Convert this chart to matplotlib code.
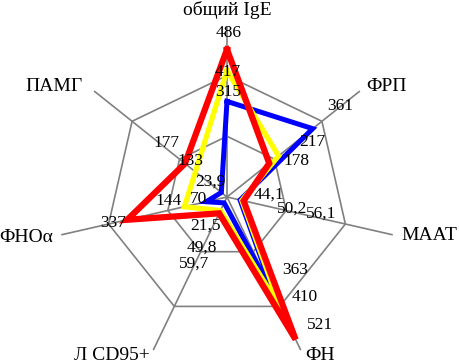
import matplotlib
matplotlib.use("Agg")
import matplotlib.pyplot as plt
import numpy as np

plt.rcParams['font.family'] = ['Liberation Serif', 'DejaVu Serif']

categories = ["общий IgE", "ФРП", "МААТ", "ФН", "Л CD95+", "ФНОα", "ПАМГ"]
red_vals = [486, 178, 56.1, 521, 59.7, 337, 177]
yellow_vals = [417, 217, 50.2, 410, 49.8, 144, 133]
blue_vals = [315, 361, 44.1, 363, 21.5, 70, 23.9]

# label offsets from the data point, in pixels (x right, y up)
red_off = [(2, 16), (27, 2), (78, -13), (24, 14), (-25, -50), (-14, -3), (-19, 20)]
yellow_off = [(1, -2), (34, 14), (50, -8), (24, 12), (-19, -37), (-16, 6), (-5, 11)]
blue_off = [(1, 9), (28, 23), (29, 5), (20, 26), (-19, -23), (-8, 3), (-11, 11)]

# category label placement relative to axis end
cat_style = [((0, 17), 'center'), ((6, 5), 'left'), ((9, -1), 'left'),
             ((4, -5), 'left'), ((-3, -5), 'right'), ((-8, -3), 'right'),
             ((-11, 5), 'right')]

rmax = 560
rings = [200, 400]

n = len(categories)
theta = np.arange(n) * 2 * np.pi / n
theta_c = np.append(theta, theta[0])


def fmt(v):
    if float(v).is_integer():
        return str(int(v))
    return str(v).replace('.', ',')


fig = plt.figure(figsize=(4.59, 3.64), dpi=100)
ax = fig.add_axes([0.12418, -0.00824, 0.74074, 0.93407], projection='polar')
ax.set_theta_zero_location('N')
ax.set_theta_direction(-1)
ax.set_ylim(0, rmax)
ax.axis('off')

grey = '#808080'
for r in rings:
    ax.plot(theta_c, [r] * (n + 1), color=grey, lw=1.2, zorder=1)
for t in theta:
    ax.plot([t, t], [0, rmax], color=grey, lw=1.2, zorder=1)

series = [(blue_vals, '#0000FF', 3.6, blue_off),
          (yellow_vals, '#FFFF00', 3.8, yellow_off),
          (red_vals, '#FF0000', 4.5, red_off)]
for i, (vals, col, lw, offs) in enumerate(series):
    v = vals + [vals[0]]
    ax.plot(theta_c, v, color=col, lw=lw, zorder=2 + i, solid_joinstyle='miter')

for vals, col, lw, offs in series:
    for t, val, off in zip(theta, vals, offs):
        ax.annotate(fmt(val), xy=(t, val), xytext=off, textcoords='offset pixels',
                    ha='center', va='center', fontsize=12.5, color='black',
                    zorder=10, annotation_clip=False)

for t, name, (off, ha) in zip(theta, categories, cat_style):
    ax.annotate(name, xy=(t, rmax), xytext=off, textcoords='offset pixels',
                ha=ha, va='center', fontsize=14, color='black',
                annotation_clip=False)

fig.savefig("out.png", dpi=100)
